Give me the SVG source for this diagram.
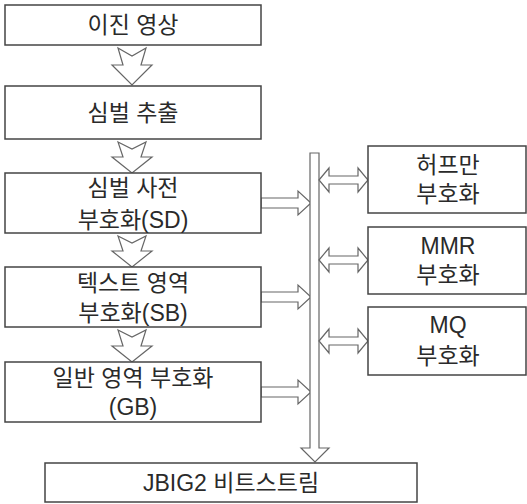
<svg xmlns="http://www.w3.org/2000/svg" width="527" height="504" viewBox="0 0 527 504">
<style>
.box{fill:#fff;stroke:#444;stroke-width:1.5}
.arr{fill:#fff;stroke:#666;stroke-width:1.2;stroke-linejoin:miter}
.t{font-family:"Liberation Sans","Noto Sans CJK KR",sans-serif;font-size:23px;fill:#2a2a2a;text-anchor:middle;dominant-baseline:central}
</style>
<rect width="527" height="504" fill="#fff"/>
<g id="connectors">
<path class="arr" d="M118,48 L132,56 L146,48 L141,65 L152,65 L132,85 L112,65 L123,65 Z"/>
<path class="arr" d="M118,142 L132,149 L146,142 L141,157 L152,157 L132,173 L112,157 L123,157 Z"/>
<path class="arr" d="M118,236 L132,243 L146,236 L141,251 L152,251 L132,267 L112,251 L123,251 Z"/>
<path class="arr" d="M118,330 L132,337 L146,330 L141,346 L152,346 L132,362 L112,346 L123,346 Z"/>
<path class="arr" d="M261,198 H298 V191 L311,203 L298,215 V208 H261 Z"/>
<path class="arr" d="M261,292 H298 V285 L311,297 L298,309 V302 H261 Z"/>
<path class="arr" d="M261,387 H298 V380 L311,392 L298,404 V397 H261 Z"/>
<path class="arr" d="M310,153 H319 V448 H329 L315,462 L301,448 H310 Z"/>
<path class="arr" d="M319,180 L329,168 V176 H358 V168 L368,180 L358,192 V184 H329 V192 Z"/>
<path class="arr" d="M319,260 L329,248 V256 H358 V248 L368,260 L358,272 V264 H329 V272 Z"/>
<path class="arr" d="M319,341 L329,329 V337 H358 V329 L368,341 L358,353 V345 H329 V353 Z"/>
</g>
<g id="n1"><rect class="box" x="5" y="5" width="256" height="40"/><text class="t" x="133" y="25">이진 영상</text></g>
<g id="n2"><rect class="box" x="5" y="86" width="256" height="53"/><text class="t" x="133" y="113">심벌 추출</text></g>
<g id="n3"><rect class="box" x="5" y="173" width="256" height="60"/><text class="t" x="133" y="188">심벌 사전</text><text class="t" x="133" y="220">부호화(SD)</text></g>
<g id="n4"><rect class="box" x="5" y="267" width="256" height="60"/><text class="t" x="133" y="283">텍스트 영역</text><text class="t" x="133" y="313">부호화(SB)</text></g>
<g id="n5"><rect class="box" x="5" y="362" width="256" height="60"/><text class="t" x="133" y="378">일반 영역 부호화</text><text class="t" x="133" y="407">(GB)</text></g>
<g id="n6"><rect class="box" x="45" y="463" width="372" height="39"/><text class="t" x="231" y="483">JBIG2 비트스트림</text></g>
<g id="r1"><rect class="box" x="368" y="146" width="158" height="67"/><text class="t" x="448" y="165">허프만</text><text class="t" x="448" y="194">부호화</text></g>
<g id="r2"><rect class="box" x="368" y="227" width="158" height="67"/><text class="t" x="448" y="246">MMR</text><text class="t" x="448" y="275">부호화</text></g>
<g id="r3"><rect class="box" x="368" y="307" width="158" height="68"/><text class="t" x="448" y="325">MQ</text><text class="t" x="448" y="356">부호화</text></g>
</svg>
